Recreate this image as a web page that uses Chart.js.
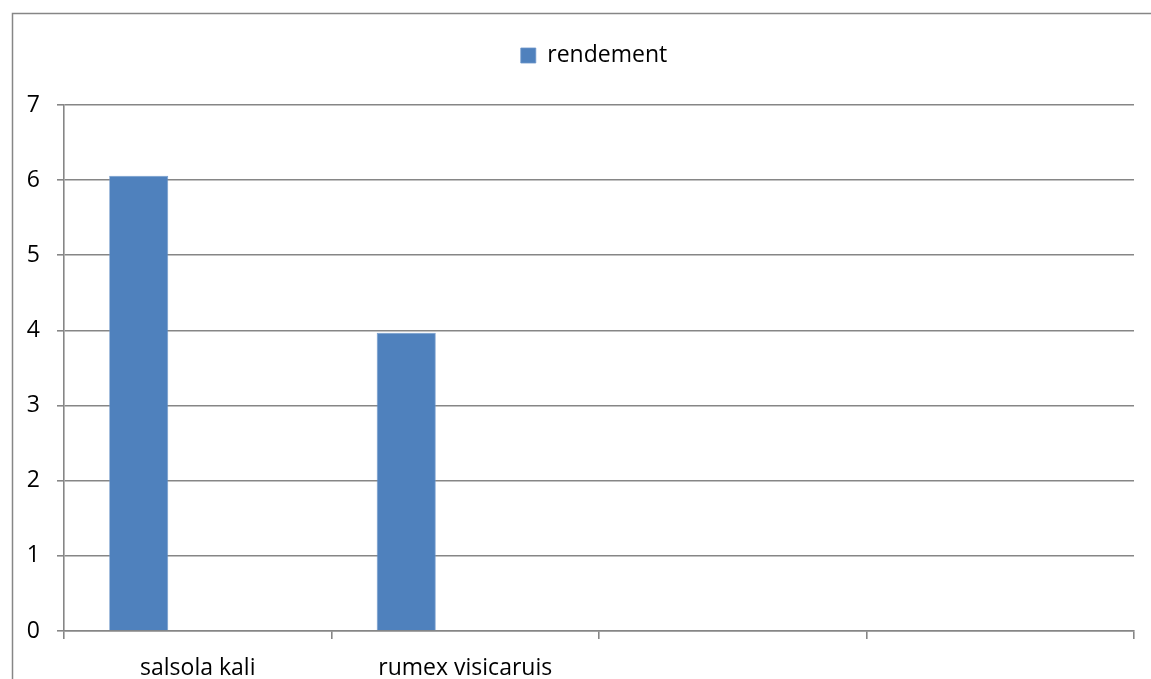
<!DOCTYPE html>
<html>
<head>
<meta charset="utf-8">
<script src="https://cdn.jsdelivr.net/npm/chart.js@4"></script>
<style>
  html, body { margin: 0; padding: 0; background: #ffffff; }
  #wrap { width: 1151px; height: 679px; position: relative; }
</style>
</head>
<body>
<div id="wrap"><canvas id="c" width="1151" height="679"></canvas></div>
<script>
// Categories and values
const categories = ["salsola kali", "rumex visicaruis", "", ""];
const rendement = [6.06, 3.97, null, null];
const emptySeries = [null, null, null, null];
const yTicks = [0, 1, 2, 3, 4, 5, 6, 7];

const GRID = "#868686";
const BAR = "#4F81BD";
const FONT = "'Open Sans', Lato, sans-serif";
const FONT_SIZE = 23;
const LINE_W = 1.6;

// Outer frame of the chart
const framePlugin = {
  id: "frame",
  beforeDraw(chart) {
    const ctx = chart.ctx;
    ctx.save();
    ctx.fillStyle = "#ffffff";
    ctx.fillRect(0, 0, chart.width, chart.height);
    ctx.strokeStyle = GRID;
    ctx.lineWidth = 1.5;
    ctx.strokeRect(12.5, 13.5, chart.width + 10, chart.height + 10);
    ctx.restore();
  }
};

// Extra room under the legend, and a small horizontal shift of the legend
const legendSpacing = {
  id: "legendSpacing",
  beforeInit(chart) {
    const legend = chart.legend;
    if (!legend) return;
    const fit = legend.fit;
    legend.fit = function () {
      fit.call(this);
      this.height += 28;
    };
    const draw = legend.draw;
    legend.draw = function () {
      const ctx = this.ctx;
      ctx.save();
      ctx.translate(27, 0);
      draw.call(this);
      ctx.restore();
    };
  }
};

new Chart(document.getElementById("c"), {
  type: "bar",
  data: {
    labels: categories,
    datasets: [
      { label: "rendement", data: rendement, backgroundColor: BAR, borderColor: "#6d96c9", borderWidth: 0.8 },
      { label: "", data: emptySeries, backgroundColor: BAR },
      { label: "", data: emptySeries, backgroundColor: BAR }
    ]
  },
  options: {
    responsive: false,
    animation: false,
    devicePixelRatio: 1,
    categoryPercentage: 0.662,
    barPercentage: 1,
    layout: { padding: { left: 0, right: 17, top: 8, bottom: 0 } },
    plugins: {
      legend: {
        position: "top",
        labels: {
          filter: (item) => item.text !== "",
          boxWidth: 15,
          boxHeight: 15,
          padding: 36,
          color: "#000000",
          font: { family: FONT, size: FONT_SIZE }
        }
      },
      tooltip: { enabled: false }
    },
    scales: {
      x: {
        offset: true,
        grid: { offset: true, drawOnChartArea: false, drawTicks: true, tickLength: 8, color: GRID, lineWidth: LINE_W },
        border: { color: GRID, width: LINE_W },
        ticks: { color: "#000000", font: { family: FONT, size: FONT_SIZE }, padding: 16, maxRotation: 0, autoSkip: false },
        afterFit: (s) => { s.height = 48; }
      },
      y: {
        min: 0,
        max: 7,
        afterBuildTicks: (s) => { s.ticks = yTicks.map(v => ({ value: v })); },
        grid: { color: GRID, lineWidth: LINE_W, tickLength: 7 },
        border: { color: GRID, width: LINE_W },
        ticks: { color: "#000000", font: { family: FONT, size: FONT_SIZE }, padding: 17 },
        afterFit: (s) => { s.width = 64; }
      }
    }
  },
  plugins: [framePlugin, legendSpacing]
});
</script>
</body>
</html>
